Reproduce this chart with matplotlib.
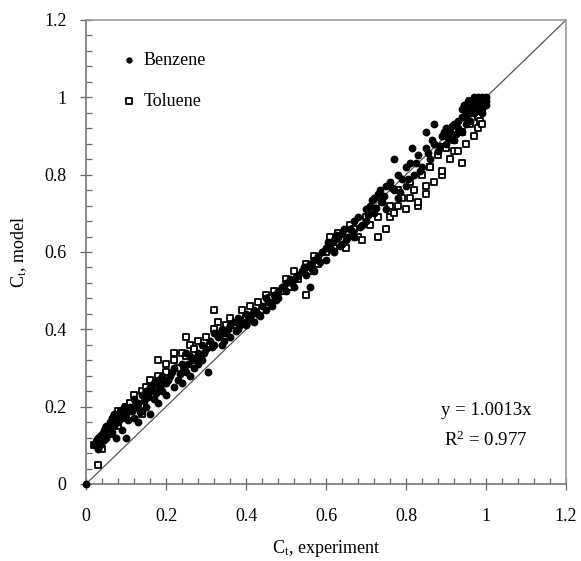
import matplotlib
matplotlib.use("Agg")
import matplotlib.pyplot as plt
from matplotlib.ticker import MultipleLocator

# ---------------- data ----------------
benzene_x = [0.0, 0.02, 0.025, 0.03, 0.03, 0.035, 0.04, 0.04, 0.045, 0.05, 0.05, 0.055, 0.06, 0.06, 0.065,
             0.07, 0.07, 0.075, 0.08, 0.085, 0.09, 0.09, 0.095, 0.10, 0.10,
             0.11, 0.12, 0.12, 0.13, 0.13, 0.14, 0.14, 0.15, 0.15, 0.16, 0.16, 0.17, 0.17, 0.18, 0.18,
             0.19, 0.19, 0.20, 0.20,
             0.21, 0.22, 0.22, 0.23, 0.24, 0.24, 0.25, 0.26, 0.26, 0.27, 0.28, 0.28, 0.29, 0.29, 0.30,
             0.305, 0.25,
             0.31, 0.32, 0.32, 0.33, 0.34, 0.34, 0.35, 0.36, 0.36, 0.37, 0.38, 0.38, 0.39, 0.40, 0.40,
             0.41, 0.42, 0.42, 0.43, 0.44, 0.45, 0.45, 0.46, 0.47, 0.48, 0.48, 0.49, 0.50, 0.50,
             0.51, 0.52, 0.53, 0.54, 0.55, 0.55, 0.56, 0.57, 0.57, 0.58, 0.59, 0.60, 0.60, 0.56,
             0.61, 0.62, 0.62, 0.63, 0.64, 0.64, 0.65, 0.66, 0.67, 0.67, 0.68, 0.69, 0.70, 0.70,
             0.71, 0.72, 0.72, 0.73, 0.74, 0.75, 0.75, 0.76, 0.77, 0.78, 0.78, 0.79, 0.80, 0.80, 0.77,
             0.81, 0.815, 0.82, 0.83, 0.84, 0.85, 0.85, 0.86, 0.87, 0.87, 0.88, 0.89, 0.90, 0.90,
             0.91, 0.92, 0.92, 0.93, 0.93, 0.94, 0.94, 0.95, 0.95, 0.95, 0.96, 0.96, 0.96, 0.97, 0.97,
             0.97, 0.98, 0.98, 0.98, 0.99, 0.99, 1.00, 1.00, 0.99, 0.95, 0.94, 0.945, 0.955, 0.965,
             0.975, 0.985, 0.995, 1.0, 0.96, 0.97, 0.98, 0.99,
             0.035, 0.045, 0.055, 0.065, 0.085, 0.105, 0.115, 0.125, 0.135, 0.145, 0.155, 0.165,
             0.175, 0.185, 0.195, 0.205, 0.215, 0.235, 0.245, 0.255, 0.265, 0.275, 0.285, 0.295,
             0.315, 0.335, 0.345, 0.355, 0.375, 0.385, 0.405, 0.415, 0.435, 0.455, 0.465, 0.475,
             0.515, 0.525, 0.545, 0.565, 0.585, 0.605, 0.615, 0.625, 0.635, 0.645, 0.655, 0.665,
             0.685, 0.705, 0.715, 0.725, 0.735, 0.745, 0.765, 0.785, 0.805, 0.825, 0.835, 0.855,
             0.865, 0.885, 0.895, 0.905, 0.915, 0.925]
benzene_y = [0.0, 0.10, 0.11, 0.09, 0.12, 0.10, 0.13, 0.11, 0.14, 0.12, 0.15, 0.13, 0.16, 0.14, 0.17,
             0.15, 0.18, 0.12, 0.16, 0.19, 0.17, 0.14, 0.20, 0.18, 0.12,
             0.20, 0.22, 0.17, 0.21, 0.16, 0.23, 0.19, 0.24, 0.20, 0.25, 0.18, 0.22, 0.26, 0.27, 0.21,
             0.24, 0.28, 0.26, 0.23,
             0.28, 0.30, 0.25, 0.27, 0.31, 0.26, 0.29, 0.33, 0.28, 0.30, 0.34, 0.31, 0.36, 0.32, 0.35,
             0.29, 0.34,
             0.37, 0.36, 0.39, 0.38, 0.40, 0.36, 0.39, 0.41, 0.38, 0.42, 0.40, 0.43, 0.42, 0.44, 0.41,
             0.43, 0.45, 0.42, 0.44, 0.46, 0.45, 0.48, 0.47, 0.49, 0.48, 0.50, 0.51, 0.50, 0.52,
             0.53, 0.51, 0.54, 0.55, 0.56, 0.54, 0.57, 0.58, 0.55, 0.59, 0.60, 0.61, 0.58, 0.51,
             0.62, 0.63, 0.60, 0.64, 0.62, 0.65, 0.63, 0.66, 0.68, 0.64, 0.69, 0.67, 0.71, 0.68,
             0.72, 0.70, 0.74, 0.75, 0.73, 0.77, 0.71, 0.78, 0.76, 0.80, 0.74, 0.79, 0.82, 0.77, 0.84,
             0.83, 0.87, 0.80, 0.85, 0.82, 0.87, 0.91, 0.84, 0.93, 0.88, 0.86, 0.90, 0.88, 0.92,
             0.91, 0.93, 0.89, 0.94, 0.92, 0.95, 0.91, 0.96, 0.93, 0.98, 0.97, 0.99, 0.94, 0.98, 0.96,
             1.00, 0.99, 0.97, 1.00, 0.99, 0.97, 1.00, 0.98, 1.00, 0.95, 0.97, 0.98, 0.99, 0.985,
             0.995, 0.99, 0.985, 0.99, 0.96, 0.97, 0.98, 0.96,
             0.125, 0.115, 0.145, 0.135, 0.175, 0.165, 0.19, 0.20, 0.185, 0.215, 0.225, 0.24,
             0.235, 0.25, 0.26, 0.27, 0.29, 0.285, 0.30, 0.31, 0.32, 0.325, 0.33, 0.34,
             0.355, 0.385, 0.37, 0.40, 0.395, 0.41, 0.425, 0.44, 0.435, 0.47, 0.46, 0.475,
             0.52, 0.535, 0.56, 0.555, 0.575, 0.625, 0.605, 0.645, 0.615, 0.66, 0.64, 0.655,
             0.665, 0.695, 0.735, 0.715, 0.76, 0.745, 0.765, 0.755, 0.79, 0.83, 0.81, 0.855,
             0.89, 0.875, 0.91, 0.895, 0.925, 0.905]

toluene_x = [0.03, 0.02, 0.03, 0.04, 0.05, 0.06, 0.07, 0.08, 0.08, 0.10, 0.11, 0.12, 0.13, 0.14, 0.14,
             0.15, 0.16, 0.17, 0.18, 0.18, 0.19, 0.20, 0.20, 0.22, 0.22, 0.23, 0.24, 0.25, 0.25,
             0.26, 0.27, 0.28, 0.30, 0.31, 0.32, 0.32, 0.33, 0.34, 0.35, 0.36, 0.37, 0.39, 0.40,
             0.41, 0.43, 0.44, 0.45, 0.46, 0.47, 0.49, 0.50, 0.51, 0.52, 0.53, 0.55, 0.55, 0.56,
             0.57, 0.58, 0.60, 0.61, 0.62, 0.63, 0.64, 0.65, 0.66, 0.67, 0.68, 0.69, 0.70, 0.71,
             0.72, 0.73, 0.73, 0.74, 0.75, 0.76, 0.76, 0.77, 0.78, 0.78, 0.79, 0.80, 0.81, 0.81,
             0.82, 0.83, 0.83, 0.84, 0.85, 0.85, 0.86, 0.86, 0.87, 0.88, 0.89, 0.89, 0.90, 0.91,
             0.92, 0.92, 0.93, 0.94, 0.94, 0.95, 0.96, 0.97, 0.98, 0.98, 0.985, 0.99, 1.00, 0.97,
             0.99, 0.96]
toluene_y = [0.05, 0.10, 0.11, 0.09, 0.14, 0.13, 0.17, 0.15, 0.19, 0.20, 0.21, 0.23, 0.20, 0.24, 0.18,
             0.25, 0.27, 0.24, 0.28, 0.32, 0.26, 0.29, 0.31, 0.32, 0.34, 0.30, 0.34, 0.33, 0.38,
             0.36, 0.35, 0.37, 0.38, 0.36, 0.40, 0.45, 0.42, 0.39, 0.41, 0.43, 0.41, 0.45, 0.43,
             0.46, 0.47, 0.45, 0.49, 0.48, 0.50, 0.50, 0.53, 0.51, 0.55, 0.53, 0.57, 0.49, 0.55,
             0.59, 0.57, 0.60, 0.64, 0.61, 0.65, 0.63, 0.61, 0.67, 0.66, 0.64, 0.63, 0.69, 0.67,
             0.71, 0.69, 0.64, 0.73, 0.66, 0.72, 0.69, 0.70, 0.76, 0.72, 0.74, 0.71, 0.78, 0.74,
             0.76, 0.72, 0.73, 0.80, 0.75, 0.77, 0.82, 0.82, 0.78, 0.85, 0.80, 0.81, 0.87, 0.84,
             0.89, 0.86, 0.86, 0.91, 0.83, 0.88, 0.93, 0.90, 0.95, 0.92, 0.94, 0.97, 0.99, 0.98,
             0.93, 0.99]

series_labels = ["Benzene", "Toluene"]
fit_text = "y = 1.0013x"
r2_text = "R$^2$ = 0.977"
x_label = "C$_t$, experiment"
y_label = "C$_t$, model"
ticks = [0, 0.2, 0.4, 0.6, 0.8, 1, 1.2]
tick_labels = ["0", "0.2", "0.4", "0.6", "0.8", "1", "1.2"]

# ---------------- figure ----------------
plt.rcParams['font.family'] = ['Liberation Serif', 'DejaVu Serif']
plt.rcParams['mathtext.fontset'] = 'custom'
plt.rcParams['mathtext.rm'] = 'Liberation Serif'
plt.rcParams['mathtext.it'] = 'Liberation Serif'

fig = plt.figure(figsize=(5.81, 5.61), dpi=100)
ax = fig.add_axes([86/581, 77/561, 480/581, 464/561])

ax.plot([0, 1.2], [0, 1.2], color='#555555', lw=0.9, zorder=1)
ax.scatter(toluene_x, toluene_y, s=22, marker='s', facecolor='white', edgecolor='black',
           linewidths=1.3, label=series_labels[1], zorder=2, clip_on=False)
ax.scatter(benzene_x, benzene_y, s=32, marker='o', color='black', linewidths=0,
           label=series_labels[0], zorder=3, clip_on=False)

ax.set_xlim(0, 1.2)
ax.set_ylim(0, 1.2)
ax.set_xticks(ticks)
ax.set_xticklabels(tick_labels)
ax.set_yticks(ticks)
ax.set_yticklabels(tick_labels)
ax.xaxis.set_minor_locator(MultipleLocator(0.04))
ax.yaxis.set_minor_locator(MultipleLocator(0.04))
ax.tick_params(which='major', direction='inout', length=8, width=0.9, color='#666666',
               labelsize=13, pad=10, labelcolor='black')
ax.tick_params(axis='x', which='major', pad=13.5)
ax.tick_params(which='minor', direction='in', length=4, width=0.9, color='#666666')
for sp in ax.spines.values():
    sp.set_color('#999999')
    sp.set_linewidth(1.2)
ax.spines['left'].set_color('#777777')
ax.spines['bottom'].set_color('#777777')

ax.set_xlabel(x_label, fontsize=13, labelpad=9)
ax.set_ylabel(y_label, fontsize=13, labelpad=11)

ax.text(1.0, 0.19, fit_text, fontsize=13.5, ha='center', va='center')
ax.text(1.0, 0.114, r2_text, fontsize=13.5, ha='center', va='center')

handles, labels = ax.get_legend_handles_labels()
order = [labels.index(series_labels[0]), labels.index(series_labels[1])]
leg = ax.legend([handles[i] for i in order], [labels[i] for i in order],
                loc='upper left', bbox_to_anchor=(0.06, 0.95), frameon=False,
                fontsize=13, handlelength=0.6, handletextpad=0.5, labelspacing=1.3,
                borderpad=0, scatterpoints=1, markerscale=0.8)

fig.savefig("out.png", dpi=100)
